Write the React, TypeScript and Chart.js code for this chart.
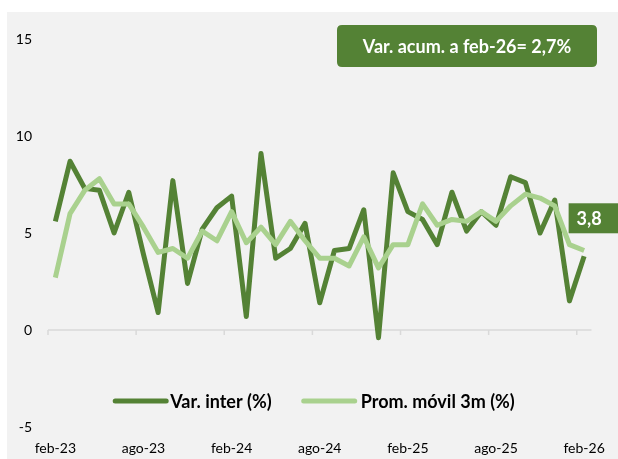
import { useEffect, useRef } from 'react';
import { Chart, registerables } from 'chart.js';

Chart.register(...registerables);

const categories = [
  'feb-23', 'mar-23', 'abr-23', 'may-23', 'jun-23', 'jul-23', 'ago-23', 'sep-23', 'oct-23', 'nov-23', 'dic-23', 'ene-24',
  'feb-24', 'mar-24', 'abr-24', 'may-24', 'jun-24', 'jul-24', 'ago-24', 'sep-24', 'oct-24', 'nov-24', 'dic-24', 'ene-25',
  'feb-25', 'mar-25', 'abr-25', 'may-25', 'jun-25', 'jul-25', 'ago-25', 'sep-25', 'oct-25', 'nov-25', 'dic-25', 'ene-26',
  'feb-26',
];

const tickLabels = ['feb-23', 'ago-23', 'feb-24', 'ago-24', 'feb-25', 'ago-25', 'feb-26'];

const varInter = [
  5.6, 8.7, 7.3, 7.2, 5.0, 7.1, 3.9, 0.9, 7.7, 2.4, 5.2, 6.3,
  6.9, 0.7, 9.1, 3.7, 4.2, 5.5, 1.4, 4.1, 4.2, 6.2, -0.4, 8.1,
  6.1, 5.7, 4.4, 7.1, 5.1, 6.1, 5.4, 7.9, 7.6, 5.0, 6.7, 1.5,
  3.8,
];

const promMovil = [
  2.7, 6.0, 7.2, 7.8, 6.5, 6.5, 5.3, 4.0, 4.2, 3.7, 5.1, 4.6,
  6.1, 4.5, 5.3, 4.4, 5.6, 4.6, 3.7, 3.7, 3.3, 4.8, 3.2, 4.4,
  4.4, 6.5, 5.4, 5.7, 5.6, 6.1, 5.6, 6.4, 7.0, 6.8, 6.4, 4.4,
  4.1,
];

const seriesNames = ['Var. inter (%)', 'Prom. móvil 3m (%)'];
const yMin = -5;
const yMax = 15;
const yStep = 5;
const accumText = 'Var. acum. a feb-26= 2,7%';
const lastValueText = '3,8';

const DARK = '#548235';
const LIGHT = '#A9D18E';
const FONT = 'Lato, "Open Sans", sans-serif';

const decorPlugin = {
  id: 'decor',
  beforeDraw(chart: any) {
    const ctx = chart.ctx;
    ctx.save();
    ctx.fillStyle = '#ffffff';
    ctx.fillRect(0, 0, chart.width, chart.height);
    ctx.fillStyle = '#f2f2f2';
    ctx.fillRect(7, 12, chart.width - 7, chart.height - 12);
    ctx.restore();
  },
  beforeDatasetsDraw(chart: any) {
    const ctx = chart.ctx;
    const x = chart.scales.x;
    const y = chart.scales.y;
    const y0 = y.getPixelForValue(0);
    const half = (x.getPixelForValue(1) - x.getPixelForValue(0)) / 2;
    ctx.save();
    ctx.strokeStyle = '#d9d9d9';
    ctx.lineWidth = 1.5;
    ctx.beginPath();
    ctx.moveTo(x.left, y0);
    ctx.lineTo(x.right, y0);
    categories.forEach((c, i) => {
      if (tickLabels.includes(c)) {
        const bx = x.getPixelForValue(i) - half;
        ctx.moveTo(bx, y0);
        ctx.lineTo(bx, y0 + 5);
      }
    });
    ctx.stroke();
    ctx.restore();
  },
  afterDraw(chart: any) {
    const ctx = chart.ctx;
    const x = chart.scales.x;
    const y = chart.scales.y;
    ctx.save();

    // legend
    ctx.font = `bold 18px ${FONT}`;
    ctx.textBaseline = 'middle';
    const lineLen = 55;
    const w1 = ctx.measureText(seriesNames[0]).width;
    const w2 = ctx.measureText(seriesNames[1]).width;
    const total = lineLen + 2 + w1 + 30 + lineLen + 4 + w2;
    let lx = 314 - total / 2;
    const ly = 401;
    ctx.lineCap = 'round';
    ctx.lineWidth = 5;
    ctx.strokeStyle = DARK;
    ctx.beginPath();
    ctx.moveTo(lx + 2, ly);
    ctx.lineTo(lx + lineLen - 2, ly);
    ctx.stroke();
    ctx.fillStyle = '#000';
    ctx.fillText(seriesNames[0], lx + lineLen + 2, ly + 1);
    lx += lineLen + 2 + w1 + 30;
    ctx.strokeStyle = LIGHT;
    ctx.beginPath();
    ctx.moveTo(lx + 2, ly);
    ctx.lineTo(lx + lineLen - 2, ly);
    ctx.stroke();
    ctx.fillText(seriesNames[1], lx + lineLen + 4, ly + 1);

    // accumulated box
    const bx = 337, by = 25, bw = 260, bh = 42, r = 5;
    ctx.fillStyle = DARK;
    ctx.beginPath();
    ctx.moveTo(bx + r, by);
    ctx.lineTo(bx + bw - r, by);
    ctx.quadraticCurveTo(bx + bw, by, bx + bw, by + r);
    ctx.lineTo(bx + bw, by + bh - r);
    ctx.quadraticCurveTo(bx + bw, by + bh, bx + bw - r, by + bh);
    ctx.lineTo(bx + r, by + bh);
    ctx.quadraticCurveTo(bx, by + bh, bx, by + bh - r);
    ctx.lineTo(bx, by + r);
    ctx.quadraticCurveTo(bx, by, bx + r, by);
    ctx.fill();
    ctx.fillStyle = '#ffffff';
    ctx.font = `bold 18px ${FONT}`;
    ctx.textAlign = 'center';
    ctx.fillText(accumText, bx + bw / 2, by + bh / 2 + 1);

    // last value label
    const last = varInter.length - 1;
    const px = x.getPixelForValue(last);
    const py = y.getPixelForValue(varInter[last]);
    const lbx = px - 15.5;
    const lby = py - 53;
    ctx.fillStyle = DARK;
    ctx.fillRect(lbx, lby, 50, 30);
    ctx.fillStyle = '#ffffff';
    ctx.font = `bold 18px ${FONT}`;
    ctx.textAlign = 'left';
    ctx.fillText(lastValueText, lbx + 8, lby + 15.5);

    ctx.restore();
  },
};

export default function App() {
  const ref = useRef<HTMLCanvasElement | null>(null);

  useEffect(() => {
    if (!ref.current) return;
    const chart = new Chart(ref.current, {
      type: 'line',
      data: {
        labels: categories,
        datasets: [
          {
            label: seriesNames[0],
            data: varInter,
            borderColor: DARK,
            backgroundColor: DARK,
            borderWidth: 5,
            pointRadius: 0,
            tension: 0,
            borderJoinStyle: 'round',
            order: 1,
          },
          {
            label: seriesNames[1],
            data: promMovil,
            borderColor: LIGHT,
            backgroundColor: LIGHT,
            borderWidth: 5,
            pointRadius: 0,
            tension: 0,
            borderJoinStyle: 'round',
            order: 0,
          },
        ],
      },
      options: {
        responsive: false,
        animation: false,
        layout: { padding: { top: 39, right: 15, left: 0, bottom: 0 } },
        plugins: {
          legend: { display: false },
          tooltip: { enabled: false },
        },
        scales: {
          x: {
            offset: true,
            grid: { display: false, drawTicks: false },
            border: { display: false },
            afterFit: (s: any) => { s.height = 32; },
            ticks: {
              autoSkip: false,
              maxRotation: 0,
              padding: 13,
              color: '#000',
              font: { family: FONT, size: 14 },
              callback: (_v: any, i: number) => (tickLabels.includes(categories[i]) ? categories[i] : ''),
            },
          },
          y: {
            min: yMin,
            max: yMax,
            grid: { display: false, drawTicks: false },
            border: { display: false },
            afterFit: (s: any) => { s.width = 48; },
            ticks: {
              stepSize: yStep,
              padding: 16,
              color: '#000',
              font: { family: FONT, size: 14 },
            },
          },
        },
      },
      plugins: [decorPlugin],
    });
    return () => chart.destroy();
  }, []);

  return (
    <div style={{ position: 'fixed', left: 0, top: 0, width: 618, height: 459 }}>
      <canvas ref={ref} width={618} height={459} style={{ display: 'block' }} />
    </div>
  );
}
